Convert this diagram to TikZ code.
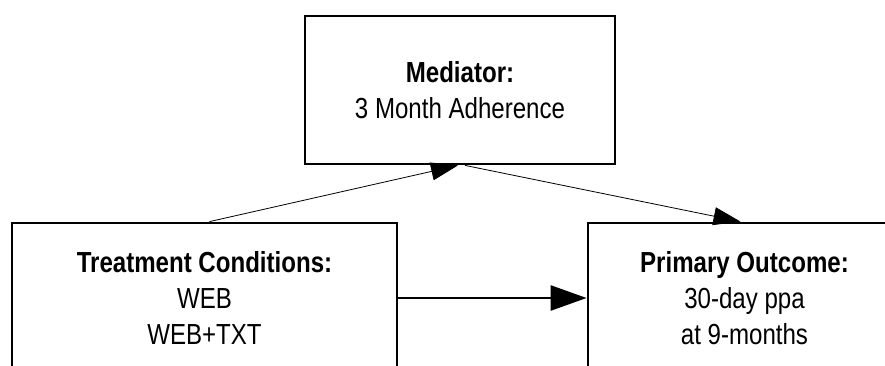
\documentclass[tikz,border=0pt]{standalone}
\usepackage{fontspec}
\setmainfont{Liberation Sans}[FakeStretch=0.83]
\usetikzlibrary{arrows.meta}
\tikzset{
  box/.style={draw=black, line width=2.8pt, fill=white, inner sep=0pt, align=center,
    font=\fontsize{29}{36}\selectfont},
  thinarrow/.style={line width=0.8pt, -{Triangle[length=27pt,width=18pt]}},
  thickarrow/.style={line width=2.6pt, -{Triangle[length=36pt,width=25pt]}}
}
\begin{document}
\begin{tikzpicture}[x=1pt,y=-1pt]
\clip (0,0) rectangle (885,366);
\fill[white] (0,0) rectangle (885,366);
\node[box, minimum width=310pt, minimum height=148pt] (med) at (460,90)
  {\textbf{Mediator:}\\3 Month Adherence};
\node[box, minimum width=385pt, minimum height=150pt] (treat) at (204.5,298)
  {\textbf{Treatment Conditions:}\\WEB\\WEB+TXT};
\node[box, minimum width=313pt, minimum height=150pt] (prim) at (744.5,298)
  {\textbf{Primary Outcome:}\\30-day ppa\\at 9-months};
\draw[thinarrow] ([xshift=5pt]treat.north) -- ([xshift=-2pt]med.south);
\draw[thinarrow] ([xshift=5pt]med.south) -- ([xshift=-4pt]prim.north);
\draw[thickarrow] (treat.east) -- (prim.west);
\end{tikzpicture}
\end{document}
